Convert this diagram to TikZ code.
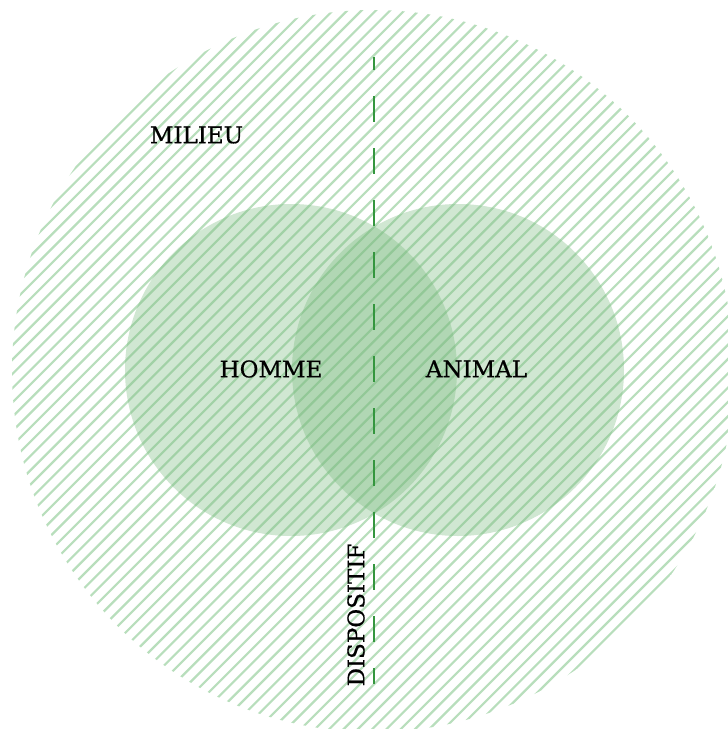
\documentclass[tikz,border=0pt]{standalone}
\usepackage{fontspec}
\setmainfont{DejaVu Serif}
\newfontfamily\lblfont{DejaVu Serif}[FakeBold=0.7]
\definecolor{hatchcol}{RGB}{184,222,188}
\definecolor{fillcol}{RGB}{120,185,125}
\definecolor{dashcol}{RGB}{52,150,62}
\tikzset{
  lbl/.style={font=\lblfont\fontsize{23}{23}\selectfont, text=black, inner sep=0pt},
  hatchline/.style={draw=hatchcol, line width=2.2pt},
  setcircle/.style={fill=fillcol, fill opacity=0.35, draw=none}
}
\begin{document}
\begin{tikzpicture}[x=1pt,y=-1pt]
\useasboundingbox (0,0) rectangle (728,729);
\coordinate (mc) at (373,371);
\begin{scope}
  \clip (mc) circle (361pt);
  \foreach \k in {-40,...,70} {
    \draw[hatchline] ({515+14.3*\k},0) -- ({515+14.3*\k-740},740);
  }
\end{scope}
\path[setcircle] (291,370) circle (166pt);
\path[setcircle] (458,370) circle (166pt);
\coordinate (dtop) at (374,57);
\coordinate (dbot) at (374,684);
\draw[dashcol, line width=2pt, dash pattern=on 26pt off 26pt, dash phase=13pt] (dtop) -- (dbot);
\node[lbl] (milieu) at (196.5,135) {MILIEU};
\node[lbl] (homme) at (271,369) {HOMME};
\node[lbl] (animal) at (476.5,369) {ANIMAL};
\node[lbl, rotate=90] (dispositif) at (356,615) {DISPOSITIF};
\end{tikzpicture}
\end{document}
